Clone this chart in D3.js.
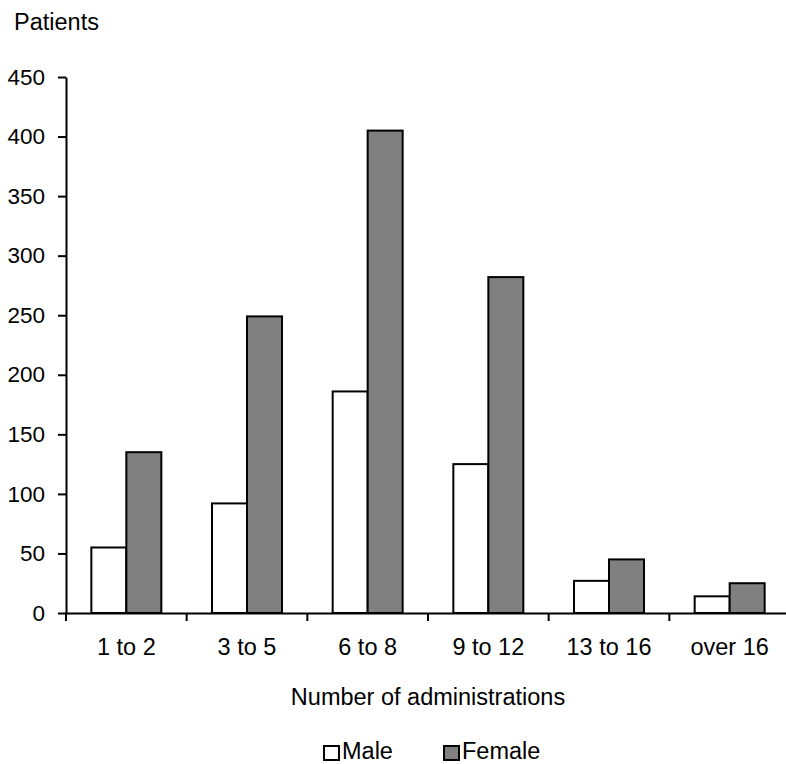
<!DOCTYPE html>
<html>
<head>
<meta charset="utf-8">
<script src="https://cdn.jsdelivr.net/npm/d3@7"></script>
<style>
  html, body { margin: 0; padding: 0; background: #fff; }
  svg { display: block; }
  text { font-family: "Liberation Sans", Arial, Helvetica, sans-serif; fill: #000; }
</style>
</head>
<body>
<svg id="chart" width="786" height="764"></svg>
<script>
// Patients by number of administrations, split by sex
const categories = ["1 to 2", "3 to 5", "6 to 8", "9 to 12", "13 to 16", "over 16"];
const seriesNames = ["Male", "Female"];
const maleValues = [55, 92, 186, 125, 27, 14];
const femaleValues = [135, 249, 405, 282, 45, 25];
const yTicks = [0, 50, 100, 150, 200, 250, 300, 350, 400, 450];

const seriesFill = { Male: "#ffffff", Female: "#808080" };
const valuesBySeries = { Male: maleValues, Female: femaleValues };

const svg = d3.select("#chart");
const fontSize = 23.5;
const tickFontSize = 22.5;

// Plot frame
const plotLeft = 66, plotRight = 790, plotTop = 77, plotBottom = 613;

const x = d3.scaleBand()
  .domain(categories)
  .range([plotLeft, plotRight])
  .paddingInner(0.42)
  .paddingOuter(0.21);

const xSub = d3.scaleBand()
  .domain(seriesNames)
  .range([0, x.bandwidth()])
  .padding(0);

const y = d3.scaleLinear()
  .domain([0, 450])
  .range([plotBottom, plotTop]);

// Bars
const rows = categories.map((c, i) => ({
  category: c,
  values: seriesNames.map(s => ({ series: s, value: valuesBySeries[s][i] }))
}));

const groups = svg.append("g")
  .selectAll("g")
  .data(rows)
  .join("g")
  .attr("transform", d => `translate(${x(d.category)},0)`);

groups.selectAll("rect")
  .data(d => d.values)
  .join("rect")
  .attr("x", d => xSub(d.series))
  .attr("y", d => y(d.value))
  .attr("width", xSub.bandwidth())
  .attr("height", d => y(0) - y(d.value))
  .attr("fill", d => seriesFill[d.series])
  .attr("stroke", "#000")
  .attr("stroke-width", 2);

// Y axis
const yAxis = svg.append("g")
  .attr("transform", `translate(${plotLeft},0)`)
  .call(d3.axisLeft(y).tickValues(yTicks).tickSize(8).tickSizeOuter(0).tickPadding(13));
yAxis.select(".domain").attr("stroke-width", 2);
yAxis.selectAll(".tick line").attr("stroke-width", 2);
yAxis.selectAll("text").attr("font-size", tickFontSize).attr("font-family", null);

// X axis: labels centred on groups, tick marks on group boundaries
const xAxis = svg.append("g")
  .attr("transform", `translate(0,${plotBottom})`)
  .call(d3.axisBottom(x).tickSize(0).tickSizeOuter(0).tickPadding(25));
xAxis.select(".domain").attr("stroke-width", 2);
xAxis.selectAll("text").attr("font-size", fontSize).attr("font-family", null);

const boundaries = d3.range(categories.length + 1).map(i => x.range()[0] + i * x.step());
xAxis.append("g")
  .selectAll("line")
  .data(boundaries)
  .join("line")
  .attr("x1", d => d).attr("x2", d => d)
  .attr("y1", 0).attr("y2", 8)
  .attr("stroke", "#000")
  .attr("stroke-width", 2);

// Axis titles
svg.append("text")
  .attr("x", 14)
  .attr("y", 30)
  .attr("font-size", fontSize)
  .text("Patients");

svg.append("text")
  .attr("x", (plotLeft + plotRight) / 2)
  .attr("y", 705)
  .attr("text-anchor", "middle")
  .attr("font-size", fontSize)
  .text("Number of administrations");

// Legend
const legendX = [324, 444];
const legend = svg.append("g")
  .selectAll("g")
  .data(seriesNames)
  .join("g")
  .attr("transform", (d, i) => `translate(${legendX[i]},0)`);

legend.append("rect")
  .attr("x", 0)
  .attr("y", 746)
  .attr("width", 15)
  .attr("height", 14)
  .attr("fill", d => seriesFill[d])
  .attr("stroke", "#000")
  .attr("stroke-width", 2);

legend.append("text")
  .attr("x", 18)
  .attr("y", 759)
  .attr("font-size", fontSize)
  .text(d => d);
</script>
</body>
</html>
